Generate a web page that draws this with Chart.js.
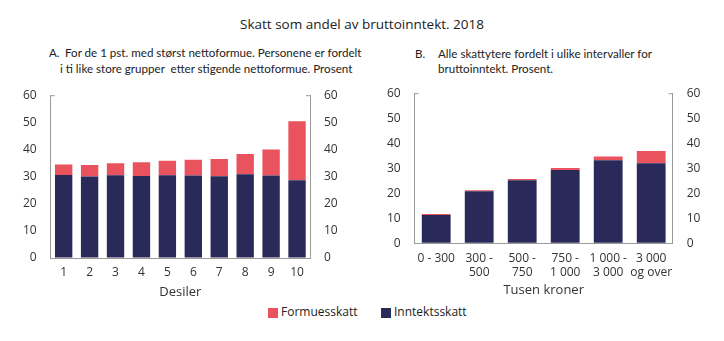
<!DOCTYPE html>
<html>
<head>
<meta charset="utf-8">
<script src="https://cdn.jsdelivr.net/npm/chart.js@4"></script>
<style>
  body { margin: 0; width: 724px; height: 341px; background: #fff; position: relative; overflow: hidden;
         font-family: "Open Sans", sans-serif; color: #222; }
  .txt { position: absolute; white-space: nowrap; line-height: 1; }
  .sub { font-family: Lato, "Open Sans", sans-serif; font-size: 11.6px; }
  canvas { position: absolute; }
  .sq { position: absolute; width: 10px; height: 10px; }
</style>
</head>
<body>
<div class="txt" id="title" style="left:0; width:724px; text-align:center; top:18px; font-size:13.5px;">Skatt som andel av bruttoinntekt. 2018</div>

<div class="txt sub" style="left:49px; top:47px;">A.</div>
<div class="txt sub" style="left:65px; top:47px;">For de 1 pst. med størst nettoformue. Personene er fordelt</div>
<div class="txt sub" style="left:60px; top:63px;">i ti like store grupper&nbsp; etter stigende nettoformue. Prosent</div>

<div class="txt sub" style="left:415px; top:48px;">B.</div>
<div class="txt sub" style="left:438px; top:48px;">Alle skattytere fordelt i ulike intervaller for</div>
<div class="txt sub" style="left:438px; top:63px;">bruttoinntekt. Prosent.</div>

<canvas id="chartA" width="362" height="226" style="left:0; top:74px;"></canvas>
<canvas id="chartB" width="362" height="228" style="left:362px; top:72px;"></canvas>

<div class="sq" style="left:268px; top:308px; background:#e9535d;"></div>
<div class="txt" style="left:281px; top:306px; font-size:12px;">Formuesskatt</div>
<div class="sq" style="left:381px; top:308px; background:#29295a;"></div>
<div class="txt" style="left:394px; top:306px; font-size:12px;">Inntektsskatt</div>

<script>
// Panel A: desiler etter nettoformue
const desiler = ["1", "2", "3", "4", "5", "6", "7", "8", "9", "10"];
const inntektsskattA = [30.6, 30.0, 30.5, 30.2, 30.5, 30.4, 30.1, 30.9, 30.4, 28.7];
const formuesskattA = [3.9, 4.3, 4.4, 5.1, 5.3, 5.8, 6.4, 7.4, 9.6, 21.7];

// Panel B: intervaller for bruttoinntekt (tusen kroner)
const intervaller = ["0 - 300", ["300 -", "500"], ["500 -", "750"], ["750 -", "1 000"], ["1 000 -", "3 000"], ["3 000", "og over"]];
const inntektsskattB = [11.3, 20.8, 25.2, 29.3, 33.2, 32.0];
const formuesskattB = [0.4, 0.4, 0.5, 0.8, 1.5, 4.9];

// Y-akse
const yMin = 0;
const yMax = 60;
const yStep = 10;

const navy = "#29295a";
const red = "#e9535d";
const axisColor = "#9a9a9a";
const tickColor = "#333";

// small stubs at the top of both y axes
const axisStubs = {
  id: "axisStubs",
  afterDraw(chart) {
    const ctx = chart.ctx;
    const a = chart.chartArea;
    ctx.save();
    ctx.strokeStyle = axisColor;
    ctx.lineWidth = 1;
    ctx.beginPath();
    ctx.moveTo(a.left, a.top + 0.5);
    ctx.lineTo(a.left + 4, a.top + 0.5);
    ctx.moveTo(a.right, a.top + 0.5);
    ctx.lineTo(a.right - 4, a.top + 0.5);
    ctx.stroke();
    ctx.restore();
  },
};

function makeChart(id, labels, inntekt, formue, dims) {
  const yScale = (position, width) => ({
    position: position,
    stacked: true,
    min: yMin,
    max: yMax,
    ticks: { stepSize: yStep, color: tickColor, padding: 14, font: { family: "Open Sans", size: 12 } },
    grid: { drawOnChartArea: false, drawTicks: false },
    border: { color: axisColor },
    afterFit: function (scale) {
      scale.width = width;
    },
  });

  return new Chart(document.getElementById(id), {
    type: "bar",
    data: {
      labels: labels,
      datasets: [
        {
          label: "Inntektsskatt",
          data: inntekt,
          backgroundColor: navy,
          barPercentage: 0.67,
          categoryPercentage: 1,
        },
        {
          label: "Formuesskatt",
          data: formue,
          backgroundColor: red,
          barPercentage: 0.67,
          categoryPercentage: 1,
        },
      ],
    },
    options: {
      responsive: false,
      animation: false,
      layout: { padding: { top: dims.top, left: 0, right: 0, bottom: 0 } },
      plugins: {
        legend: { display: false },
        tooltip: { enabled: false },
      },
      scales: {
        x: {
          stacked: true,
          ticks: {
            color: tickColor,
            padding: dims.tickPad,
            maxRotation: 0,
            minRotation: 0,
            autoSkip: false,
            font: { family: "Open Sans", size: 12, lineHeight: 1.12 },
          },
          grid: { drawOnChartArea: false, drawTicks: false },
          border: { color: axisColor },
          title: {
            display: true,
            text: dims.xTitle,
            color: tickColor,
            font: { family: "Open Sans", size: 13 },
            padding: { top: 0, bottom: dims.titlePad },
          },
          afterFit: function (scale) {
            scale.height = dims.xHeight;
          },
        },
        y: yScale("left", dims.left),
        y2: yScale("right", dims.right),
      },
    },
    plugins: [axisStubs],
  });
}

makeChart("chartA", desiler, inntektsskattA, formuesskattA, {
  top: 10, left: 50.7, right: 52, xHeight: 42, tickPad: 8, titlePad: 0, xTitle: "Desiler",
});
makeChart("chartB", intervaller, inntektsskattB, formuesskattB, {
  top: 10.3, left: 52.7, right: 51.3, xHeight: 56.7, tickPad: 9, titlePad: 2, xTitle: "Tusen kroner",
});
</script>
</body>
</html>
